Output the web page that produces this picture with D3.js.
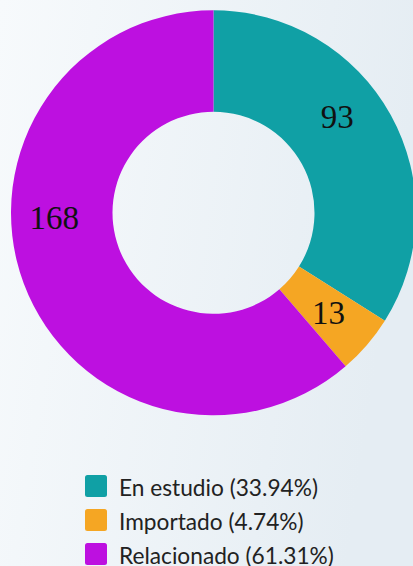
<!DOCTYPE html>
<html>
<head>
<meta charset="utf-8">
<script src="https://cdn.jsdelivr.net/npm/d3@7"></script>
<style>
  html, body { margin: 0; padding: 0; }
  body { width: 413px; height: 566px; overflow: hidden; }
  svg { display: block; }
</style>
</head>
<body>
<svg id="chart" width="413" height="566"></svg>
<script>
// ---- data ----
const categories = ["En estudio", "Importado", "Relacionado"];
const values = [93, 13, 168];
const percents = ["33.94%", "4.74%", "61.31%"];
const colors = ["#10a0a5", "#f5a623", "#bd10e0"];

// ---- layout ----
const W = 413, H = 566;
const cx = 213.5, cy = 212.8;
const outerR = 202.5, innerR = 101;
// label nudges (layout only) relative to arc centroid
const labelNudge = [[-9, -23], [0, 1], [-17, -48]];

const svg = d3.select("#chart");

const defs = svg.append("defs");
const grad = defs.append("linearGradient")
  .attr("id", "bg").attr("x1", "0%").attr("y1", "0%").attr("x2", "100%").attr("y2", "20%");
grad.append("stop").attr("offset", "0%").attr("stop-color", "#f7fafc");
grad.append("stop").attr("offset", "100%").attr("stop-color", "#e5edf3");

svg.append("rect").attr("width", W).attr("height", H).attr("fill", "url(#bg)");

const pie = d3.pie().sort(null).value(d => d)(values);
const arc = d3.arc().innerRadius(innerR).outerRadius(outerR);
const labelArc = d3.arc().innerRadius((innerR + outerR) / 2).outerRadius((innerR + outerR) / 2);

const g = svg.append("g").attr("transform", `translate(${cx},${cy})`);

g.selectAll("path.slice")
  .data(pie)
  .join("path")
  .attr("class", "slice")
  .attr("d", arc)
  .attr("fill", (d, i) => colors[i]);

g.selectAll("text.val")
  .data(pie)
  .join("text")
  .attr("class", "val")
  .attr("transform", (d, i) => {
    const c = labelArc.centroid(d);
    return `translate(${c[0] + labelNudge[i][0]},${c[1] + labelNudge[i][1]})`;
  })
  .attr("text-anchor", "middle")
  .attr("dy", "0.34em")
  .attr("font-family", "'Liberation Serif', 'DejaVu Serif', serif")
  .attr("font-size", 33)
  .attr("fill", "#111")
  .text(d => d.data);

// ---- legend ----
const legendY = d3.scaleBand().domain(categories).range([475, 577]).paddingInner(0);
const legend = svg.append("g");
const items = legend.selectAll("g.item")
  .data(categories)
  .join("g")
  .attr("class", "item")
  .attr("transform", d => `translate(85,${legendY(d)})`);

items.append("rect")
  .attr("width", 22).attr("height", 22).attr("rx", 2.5)
  .attr("fill", (d, i) => colors[i]);

items.append("text")
  .attr("x", 34).attr("y", 20.7)
  .attr("font-family", "Lato, 'Open Sans', sans-serif")
  .attr("font-size", 22.7)
  .attr("fill", "#222")
  .text((d, i) => `${d} (${percents[i]})`);
</script>
</body>
</html>
